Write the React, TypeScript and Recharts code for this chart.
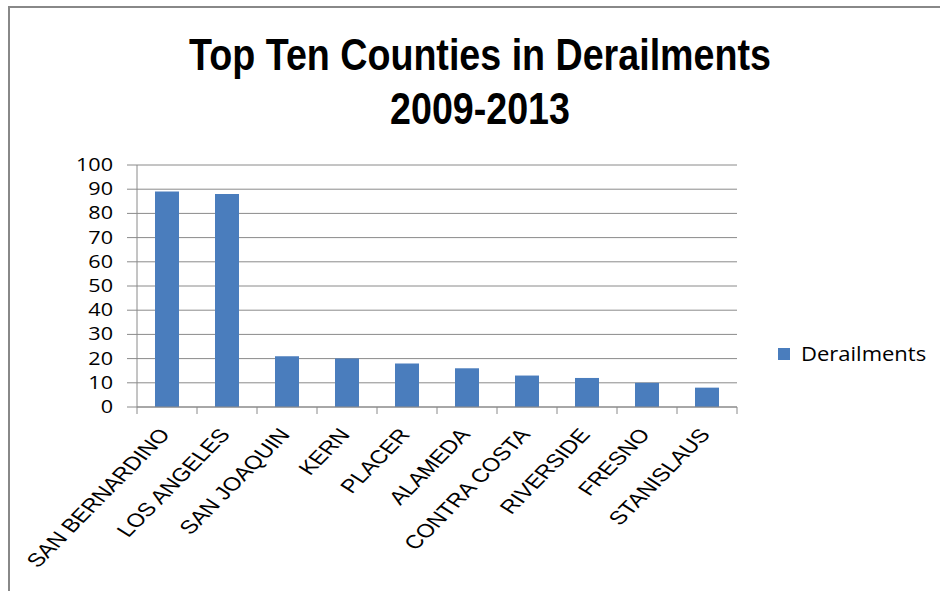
import { BarChart, Bar, XAxis, YAxis, CartesianGrid } from 'recharts';

// ─── Data ────────────────────────────────────────────────────────────────────

const counties = [
  'SAN BERNARDINO', 'LOS ANGELES', 'SAN JOAQUIN', 'KERN', 'PLACER',
  'ALAMEDA', 'CONTRA COSTA', 'RIVERSIDE', 'FRESNO', 'STANISLAUS',
];
const derailments = [89, 88, 21, 20, 18, 16, 13, 12, 10, 8];
const yTicks = [0, 10, 20, 30, 40, 50, 60, 70, 80, 90, 100];

const seriesName = 'Derailments';
const titleLines = ['Top Ten Counties in Derailments', '2009-2013'];

const data = counties.map((name, i) => ({ name, value: derailments[i] }));

// ─── Styles ──────────────────────────────────────────────────────────────────

const BAR = '#4A7DBD';
const GRID = '#8A8A8A';

// ─── Ticks ───────────────────────────────────────────────────────────────────

function YTick(props: any) {
  const { x, y, payload } = props;
  return (
    <g transform={`translate(${x},${y}) scale(1.2,1)`}>
      <text x={0} y={0} dy={6} textAnchor="end" fill="#000" fontSize={18} fontFamily="'Open Sans', sans-serif">
        {payload.value}
      </text>
    </g>
  );
}

function XTick(props: any) {
  const { x, y, payload, index, visibleTicksCount } = props;
  const off = payload.offset ?? 0;
  const last = index === (visibleTicksCount ?? counties.length) - 1;
  return (
    <g>
      <line x1={x - off} x2={x - off} y1={y - 7} y2={y} stroke={GRID} />
      {last && <line x1={x + off} x2={x + off} y1={y - 7} y2={y} stroke={GRID} />}
      <g transform={`translate(${x + 4},${y + 21}) scale(1.25,1) rotate(-51.5)`}>
        <text x={0} y={0} textAnchor="end" fill="#000" fontSize={19} fontFamily="'Liberation Sans', Arial, sans-serif">
          {payload.value}
        </text>
      </g>
    </g>
  );
}

// ─── Component ───────────────────────────────────────────────────────────────

export default function App() {
  return (
    <div style={{ position: 'absolute', left: 0, top: 0, width: 940, height: 591, background: '#fff', overflow: 'hidden' }}>
      <div style={{
        position: 'absolute', left: 8, top: 6, width: 960, height: 620,
        borderLeft: `2px solid #888`, borderTop: `2px solid #888`,
      }} />

      <div style={{
        position: 'absolute', left: 0, top: 28, width: 960, textAlign: 'center',
        fontFamily: "'Liberation Sans', Arial, sans-serif", fontWeight: 700, fontSize: 44,
        lineHeight: '54px', color: '#000', transform: 'scaleX(0.855)', transformOrigin: '480px 0',
      }}>
        {titleLines.map(t => <div key={t}>{t}</div>)}
      </div>

      <BarChart
        width={940}
        height={591}
        data={data}
        margin={{ top: 165, right: 203, bottom: 0, left: 77 }}
        barCategoryGap="30%"
        style={{ position: 'absolute', left: 0, top: 0 }}
      >
        <CartesianGrid vertical={false} stroke={GRID} />
        <XAxis
          dataKey="name"
          interval={0}
          height={184}
          tickSize={7}
          tickMargin={0}
          tickLine={false}
          axisLine={{ stroke: GRID }}
          tick={<XTick />}
        />
        <YAxis
          width={60}
          domain={[0, 100]}
          ticks={yTicks}
          interval={0}
          tickSize={10}
          tickMargin={14}
          tickLine={{ stroke: GRID }}
          axisLine={{ stroke: GRID }}
          tick={<YTick />}
        />
        <Bar dataKey="value" name={seriesName} fill={BAR} isAnimationActive={false} />
      </BarChart>

      <div style={{ position: 'absolute', left: 778, top: 348, width: 12, height: 12, background: BAR }} />
      <div style={{
        position: 'absolute', left: 801, top: 344, lineHeight: '20px', fontSize: 20,
        fontFamily: "'Open Sans', sans-serif", color: '#000', transform: 'scaleX(1.1)', transformOrigin: '0 0',
        whiteSpace: 'nowrap',
      }}>
        {seriesName}
      </div>
    </div>
  );
}
